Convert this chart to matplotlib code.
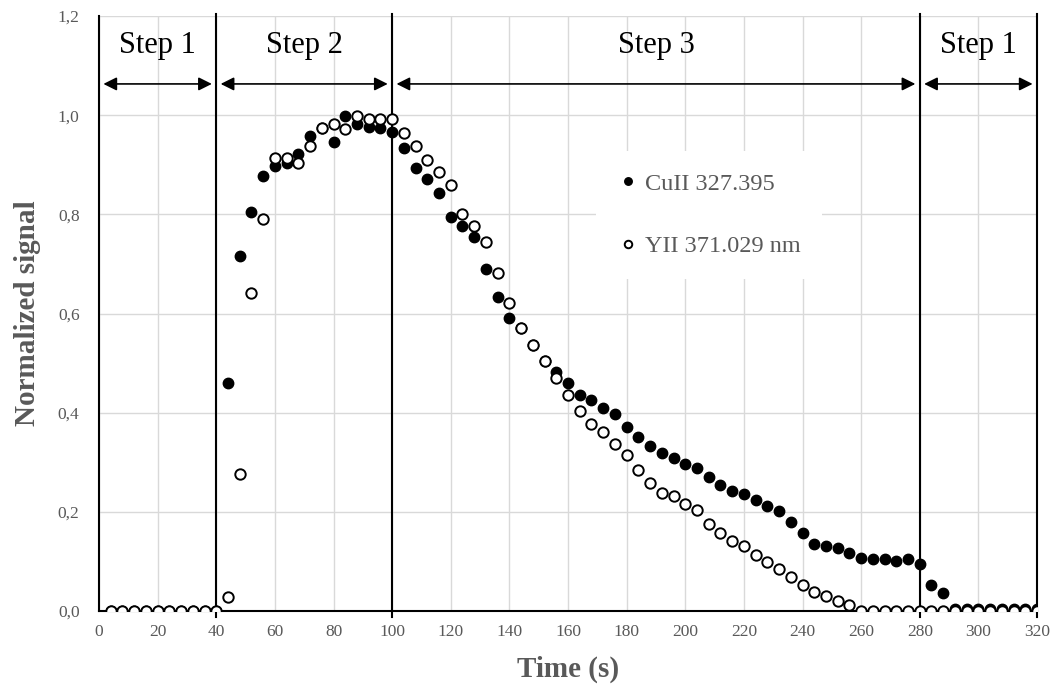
import matplotlib.pyplot as plt
from matplotlib.ticker import FuncFormatter

plt.rcParams['font.family'] = ['Liberation Serif', 'DejaVu Serif']

# sampling times (s)
time_s = [4, 8, 12, 16, 20, 24, 28, 32, 36, 40,
          44, 48, 52, 56, 60, 64, 68, 72, 76, 80,
          84, 88, 92, 96, 100, 104, 108, 112, 116, 120,
          124, 128, 132, 136, 140, 144, 148, 152, 156, 160,
          164, 168, 172, 176, 180, 184, 188, 192, 196, 200,
          204, 208, 212, 216, 220, 224, 228, 232, 236, 240,
          244, 248, 252, 256, 260, 264, 268, 272, 276, 280,
          284, 288, 292, 296, 300, 304, 308, 312, 316, 320]

# normalized signals
cu_signal = [0, 0, 0, 0, 0, 0, 0, 0, 0, 0,
             0.460, 0.716, 0.805, 0.878, 0.898, 0.904, 0.921, 0.958, 0.975, 0.946,
             0.999, 0.983, 0.976, 0.974, 0.967, 0.934, 0.893, 0.871, 0.843, 0.794,
             0.776, 0.754, 0.690, 0.634, 0.591, 0.570, 0.537, 0.505, 0.483, 0.460,
             0.436, 0.426, 0.409, 0.397, 0.371, 0.350, 0.333, 0.318, 0.309, 0.296,
             0.288, 0.271, 0.254, 0.243, 0.235, 0.223, 0.211, 0.201, 0.179, 0.158,
             0.136, 0.132, 0.128, 0.117, 0.106, 0.104, 0.104, 0.101, 0.105, 0.094,
             0.052, 0.037, 0.004, 0.004, 0.004, 0.004, 0.004, 0.004, 0.004, 0.004]

y_signal = [0, 0, 0, 0, 0, 0, 0, 0, 0, 0,
            0.029, 0.276, 0.641, 0.790, 0.913, 0.913, 0.904, 0.938, 0.975, 0.982,
            0.973, 0.998, 0.992, 0.992, 0.992, 0.965, 0.937, 0.910, 0.885, 0.859,
            0.800, 0.777, 0.744, 0.681, 0.621, 0.570, 0.537, 0.505, 0.469, 0.435,
            0.404, 0.378, 0.362, 0.337, 0.314, 0.284, 0.259, 0.237, 0.231, 0.215,
            0.204, 0.175, 0.158, 0.141, 0.132, 0.112, 0.098, 0.084, 0.069, 0.052,
            0.038, 0.030, 0.021, 0.012, 0, 0, 0, 0, 0, 0,
            0, 0, 0, 0, 0, 0, 0, 0, 0, 0]

# step boundaries and labels
step_edges = [40, 100, 280, 320]
step_labels = ['Step 1', 'Step 2', 'Step 3', 'Step 1']
step_spans = [(0, 40), (40, 100), (100, 280), (280, 320)]

gray = '#595959'

fig = plt.figure(figsize=(10.55, 6.86), dpi=100)
ax = fig.add_axes([99 / 1055, 1 - 611 / 686, 938 / 1055, 595 / 686])

ax.set_xlim(0, 320)
ax.set_ylim(0, 1.2)
ax.set_xticks(range(0, 321, 20))
ax.set_yticks([0, 0.2, 0.4, 0.6, 0.8, 1.0, 1.2])
ax.yaxis.set_major_formatter(FuncFormatter(lambda v, p: f'{v:.1f}'.replace('.', ',')))
ax.grid(True, color='#d9d9d9', lw=1)
ax.set_axisbelow(True)
ax.tick_params(length=0, labelsize=12.5, colors=gray)
ax.tick_params(axis='y', pad=14)
ax.tick_params(axis='x', pad=9)

for s in ['top', 'right']:
    ax.spines[s].set_visible(False)
ax.spines['left'].set_color('black')
ax.spines['left'].set_linewidth(1.5)
ax.spines['bottom'].set_color('black')
ax.spines['bottom'].set_linewidth(1.5)

# step separators
for xe in step_edges:
    ax.plot([xe, xe], [-0.013, 1.205], color='black', lw=1.5, clip_on=False, zorder=2)

# step labels with double arrows
for (a, b), lab in zip(step_spans, step_labels):
    ax.text((a + b) / 2, 1.14, lab, ha='center', va='center', fontsize=22, color='black')
    ax.annotate('', xy=(a + 1.5, 1.063), xytext=(b - 1.5, 1.063),
                arrowprops=dict(arrowstyle='<|-|>', color='black', lw=1.2,
                                mutation_scale=20, shrinkA=0, shrinkB=0))

ax.plot(time_s, cu_signal, 'o', color='black', ms=7.5, label='CuII 327.395', zorder=3)
ax.plot(time_s, y_signal, 'o', mfc='white', mec='black', mew=1.4, ms=7.5,
        label='YII 371.029 nm', zorder=4)

leg = ax.legend(loc='upper left', bbox_to_anchor=(0.517, 0.794), frameon=True,
                fancybox=False, edgecolor='none', facecolor='white', framealpha=1,
                fontsize=17.5, labelspacing=1.68, handlelength=0.8, handletextpad=0.3,
                markerscale=0.72, borderpad=0.9)
for t in leg.get_texts():
    t.set_color(gray)

ax.set_xlabel('Time (s)', fontsize=21, fontweight='bold', color=gray, labelpad=12)
ax.set_ylabel('Normalized signal', fontsize=21, fontweight='bold', color=gray, labelpad=12)

fig.savefig('out.png', dpi=100)
